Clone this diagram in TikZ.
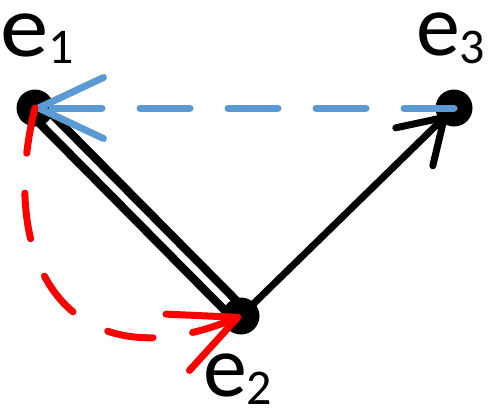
\documentclass[tikz,border=0pt]{standalone}
\usepackage{fontspec}
\setmainfont{Carlito}
\usetikzlibrary{arrows.meta,backgrounds}
\definecolor{edgeblue}{RGB}{91,155,213}
\definecolor{edgered}{RGB}{255,0,0}
\newcommand\labsub[1]{\raisebox{-8pt}{\fontsize{50}{50}\selectfont #1}}
\begin{document}
\begin{tikzpicture}[x=1pt,y=-1pt,
  dot/.style={circle,fill=black,inner sep=0pt,minimum size=37pt},
  lab/.style={inner sep=0pt,anchor=base west,text height=45pt,text depth=9pt,font=\fontsize{88}{88}\selectfont},
  blackedge/.style={line width=7pt,black},
  dashedge/.style={line width=7pt,line cap=round},
  bigbarb/.style={-{Straight Barb[round,length=65pt,width=61pt]}},
  smallbarb/.style={-{Straight Barb[round,length=42pt,width=53pt]}}]
\useasboundingbox (0,0) rectangle (493,415);
\node[dot] (e1) at (35,108) {};
\node[dot] (e2) at (241,316) {};
\node[dot] (e3) at (454,108) {};
\node[lab] (l1) at (0,56) {\scalebox{1.1}[1]{e}\labsub{1}};
\node[lab] (l3) at (416,55) {e\labsub{3}};
\node[lab] (l2) at (203,396) {e\labsub{2}};
\begin{scope}[on background layer]
  \draw[black,line width=8.5pt,double distance=6.5pt] (e1.center) -- (e2.center);
  \draw[blackedge,smallbarb,shorten >=10pt] (e2.center) -- (e3.center);
\end{scope}
\draw[dashedge,edgeblue,dash pattern=on 50pt off 38pt,bigbarb] (e3.center) -- (e1.center);
\draw[dashedge,edgered,dash pattern=on 46pt off 40pt,bigbarb] (e1.center) .. controls (-5,270) and (75,385) .. (e2.center);
\end{tikzpicture}
\end{document}
